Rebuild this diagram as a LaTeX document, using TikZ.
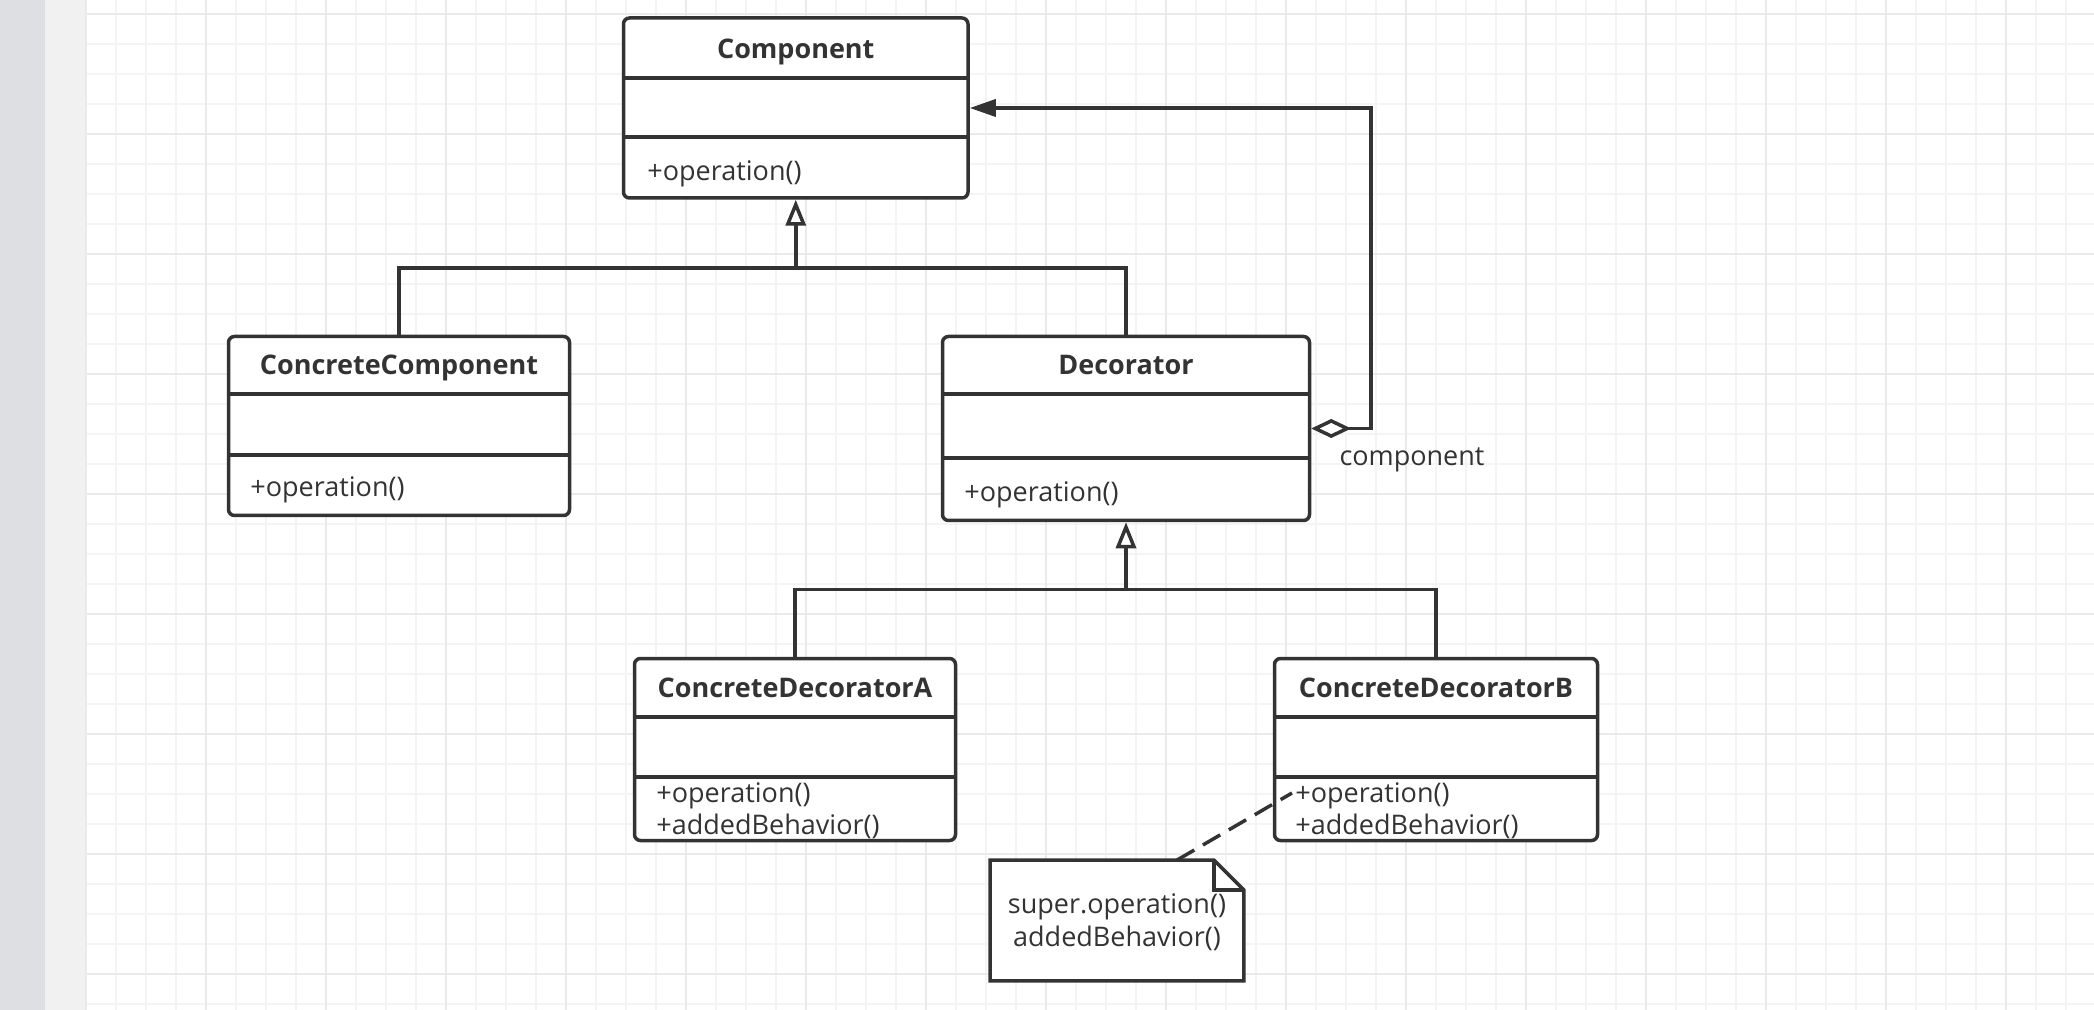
\documentclass[tikz,border=0pt]{standalone}
\usepackage{fontspec}
\setmainfont{Open Sans}
\usepackage{tikz}
\usetikzlibrary{arrows.meta}
\definecolor{ink}{HTML}{333333}
\definecolor{gridmin}{HTML}{F4F4F4}
\definecolor{gridmaj}{HTML}{EAEAEA}
\definecolor{sidebar}{HTML}{DEDFE3}
\definecolor{margin}{HTML}{F1F1F1}

\begin{document}
\begin{tikzpicture}[x=0.5pt,y=-0.5pt,
  every node/.style={font=\fontsize{13.5}{17}\selectfont, text=ink},
  cls/.style={draw=ink, line width=1.75pt, rounded corners=3pt, fill=white, inner sep=0pt},
  ttl/.style={font=\fontsize{13.5}{17}\selectfont\bfseries, inner sep=0pt, anchor=base},
  op/.style={anchor=base west, inner sep=0pt},
  ln/.style={draw=ink, line width=1.75pt},
  gen/.style={ln, -{Triangle[fill=white, length=13pt, width=10pt]}},
  agg/.style={ln, {Diamond[fill=white, length=20pt, width=9.5pt]}-{Triangle[length=13pt, width=8.5pt]}},
  dsh/.style={ln, dash pattern=on 10pt off 5pt}
]
  \useasboundingbox (0,0) rectangle (2094,1010);
  \fill[white] (0,0) rectangle (2094,1010);
  \fill[sidebar] (0,0) rectangle (45,1010);
  \fill[margin] (45,0) rectangle (86,1010);
  \foreach \x in {86,116,...,2094} \draw[gridmin, line width=1pt] (\x,0) -- (\x,1010);
  \foreach \y in {14,44,...,1010} \draw[gridmin, line width=1pt] (86,\y) -- (2094,\y);
  \foreach \x in {86,206,...,2094} \draw[gridmaj, line width=1pt] (\x,0) -- (\x,1010);
  \foreach \y in {14,134,...,1010} \draw[gridmaj, line width=1pt] (86,\y) -- (2094,\y);

  \node[cls, minimum width=172.25pt, minimum height=90pt] (comp) at (795.75,108) {};
  \draw[ln] (comp.west |- 0,78) -- (comp.east |- 0,78);
  \draw[ln] (comp.west |- 0,137) -- (comp.east |- 0,137);
  \node[ttl] (comp-t) at (795.75,59) {Component};
  \node[op] (comp-o) at (647,181) {+operation()};

  \node[cls, minimum width=170.5pt, minimum height=89.5pt] (cc) at (399,426) {};
  \draw[ln] (cc.west |- 0,394) -- (cc.east |- 0,394);
  \draw[ln] (cc.west |- 0,455) -- (cc.east |- 0,455);
  \node[ttl] (cc-t) at (399,375) {ConcreteComponent};
  \node[op] (cc-o) at (250,496) {+operation()};

  \node[cls, minimum width=183.5pt, minimum height=92pt] (dec) at (1126,428.5) {};
  \draw[ln] (dec.west |- 0,394) -- (dec.east |- 0,394);
  \draw[ln] (dec.west |- 0,458) -- (dec.east |- 0,458);
  \node[ttl] (dec-t) at (1126,375) {Decorator};
  \node[op] (dec-o) at (964,502) {+operation()};

  \node[cls, minimum width=160.5pt, minimum height=91pt] (cda) at (795,749.5) {};
  \draw[ln] (cda.west |- 0,717) -- (cda.east |- 0,717);
  \draw[ln] (cda.west |- 0,777) -- (cda.east |- 0,777);
  \node[ttl] (cda-t) at (795,697) {ConcreteDecoratorA};
  \node[op] (cda-o1) at (656,802) {+operation()};
  \node[op] (cda-o2) at (656,834) {+addedBehavior()};

  \node[cls, minimum width=161.5pt, minimum height=91pt] (cdb) at (1436,749.5) {};
  \draw[ln] (cdb.west |- 0,717) -- (cdb.east |- 0,717);
  \draw[ln] (cdb.west |- 0,777) -- (cdb.east |- 0,777);
  \node[ttl] (cdb-t) at (1436,697) {ConcreteDecoratorB};
  \node[op] (cdb-o1) at (1295,802) {+operation()};
  \node[op] (cdb-o2) at (1295,834) {+addedBehavior()};

  \node[minimum width=126.5pt, minimum height=60pt, inner sep=0pt] (note) at (1117,920.5) {};
  \draw[ln, fill=white] (note.north west) -- ([xshift=-15pt]note.north east)
    -- ([yshift=-15pt]note.north east) -- (note.south east) -- (note.south west) -- cycle;
  \draw[ln] ([xshift=-15pt]note.north east) |- ([yshift=-15pt]note.north east);
  \node[anchor=base, inner sep=0pt] (note-t1) at (1117,913) {super.operation()};
  \node[anchor=base, inner sep=0pt] (note-t2) at (1117,946) {addedBehavior()};

  \coordinate (j1) at (795.75,268);
  \draw[ln] (cc.north) |- (j1) -| (dec.north);
  \draw[gen] (j1) -- (comp.south);

  \coordinate (j2) at (1126,589.5);
  \draw[ln] (cda.north) |- (j2) -| (cdb.north);
  \draw[gen] (j2) -- (dec.south);

  \coordinate (bend) at (1371,108);
  \draw[agg] (dec.east) -| (bend) -- (comp.east);
  \node[anchor=base, inner sep=0pt] (agg-l) at (1412,466) {component};

  \coordinate (nt) at (1292,793);
  \draw[dsh] ([xshift=30pt]note.north) -- (nt);
\end{tikzpicture}
\end{document}
